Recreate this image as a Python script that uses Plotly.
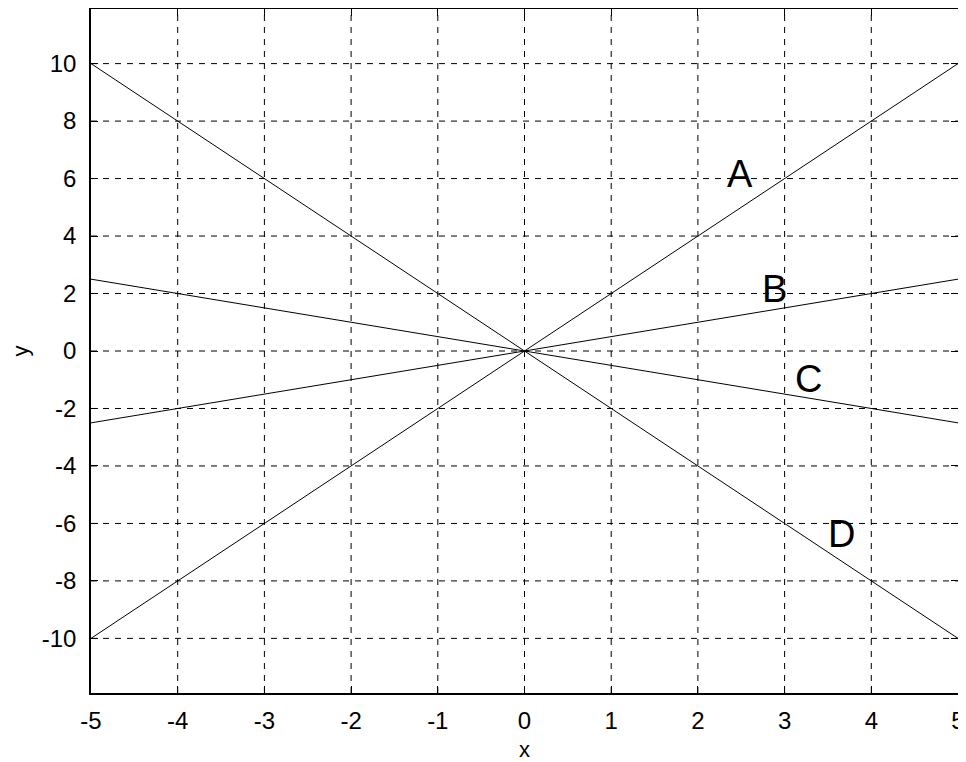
import plotly.graph_objects as go

# line data: the four straight lines through the origin
x_vals = [-5, 0, 5]
y_a = [-10, 0, 10]
y_b = [-2.5, 0, 2.5]
y_c = [2.5, 0, -2.5]
y_d = [10, 0, -10]

# letter labels placed near the lines
label_text = ["A", "B", "C", "D"]
label_x = [2.49, 2.88, 3.27, 3.66]
label_y = [6.17, 2.17, -0.96, -6.38]

x_ticks = list(range(-5, 6))
y_ticks = list(range(-10, 11, 2))
x_ticktext = [str(v) for v in x_ticks]   # plain hyphen minus, like the original
y_ticktext = [str(v) for v in y_ticks]

font_name = "Liberation Sans, Arial, sans-serif"

fig = go.Figure()
for ys in (y_a, y_b, y_c, y_d):
    fig.add_trace(go.Scatter(
        x=x_vals, y=ys, mode="lines",
        line=dict(color="black", width=1),
        showlegend=False, hoverinfo="skip",
    ))

for t, lx, ly in zip(label_text, label_x, label_y):
    fig.add_annotation(
        x=lx, y=ly, text=t, showarrow=False,
        font=dict(family=font_name, size=38, color="black"),
        xanchor="center", yanchor="middle",
    )

# dashed grid drawn as shapes so it sits below the data lines
for xv in x_ticks[1:-1]:
    fig.add_shape(type="line", x0=xv, x1=xv, y0=0, y1=1, xref="x", yref="paper",
                  line=dict(color="black", width=1, dash="6px,6px"), layer="below")
for yv in y_ticks:
    fig.add_shape(type="line", x0=0, x1=1, y0=yv, y1=yv, xref="paper", yref="y",
                  line=dict(color="black", width=1, dash="6px,6px"), layer="below")

axis_common = dict(
    showgrid=False, zeroline=False, automargin=False,
    showline=True, linecolor="black", linewidth=1.5, mirror="ticks",
    ticks="inside", ticklen=7, tickcolor="black", tickwidth=1,
    tickfont=dict(family=font_name, size=24, color="black"),
)

# the page body has an 8px margin, so the figure is a bit smaller than the window
fig.update_layout(
    width=958, height=754,
    margin=dict(l=83, r=8, t=1, b=69),
    paper_bgcolor="white", plot_bgcolor="white",
    xaxis=dict(range=[-5, 5], tickvals=x_ticks, ticktext=x_ticktext,
               ticklabelstandoff=5,
               title=dict(text="x", font=dict(family=font_name, size=22, color="black"),
                          standoff=13),
               **axis_common),
    yaxis=dict(range=[-11.9, 11.9], tickvals=y_ticks, ticktext=y_ticktext,
               ticklabelstandoff=8,
               title=dict(text="y", font=dict(family=font_name, size=22, color="black"),
                          standoff=27),
               **axis_common),
)

fig.write_html("out.html")
